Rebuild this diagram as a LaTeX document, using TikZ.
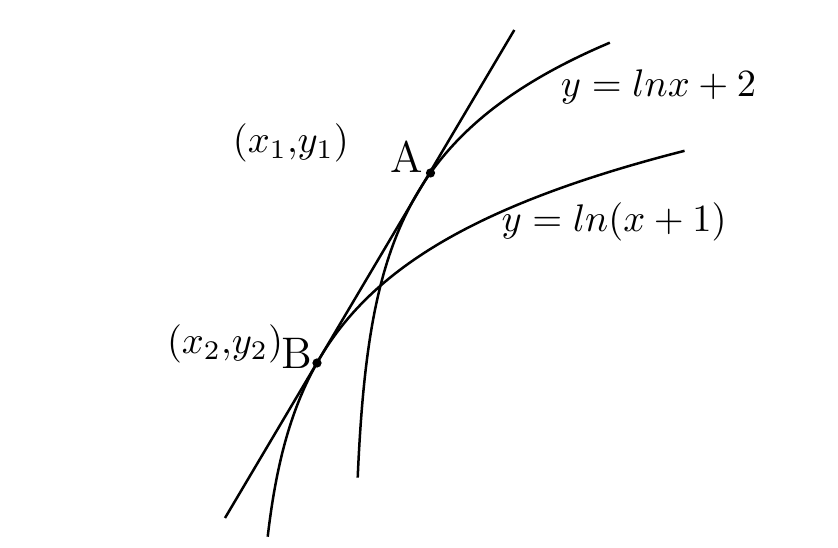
\documentclass[tikz,border=0pt]{standalone}
\begin{document}
\begin{tikzpicture}[x=0.26pt,y=-0.26pt,
  curve/.style={line width=0.65pt,line join=round},
  tangentline/.style={line width=0.65pt},
  ptdot/.style={circle,fill=black,inner sep=0pt,minimum size=2.4pt},
  mathlabel/.style={inner sep=0pt,anchor=base},
  ptlabel/.style={inner sep=0pt,anchor=base,font=\fontsize{11.5pt}{14pt}\selectfont}]
\useasboundingbox (0,0) rectangle (838,548);
% tangent points
\coordinate (A) at (430.5,173);
\coordinate (B) at (317,363);
% ends of the common tangent
\coordinate (L1) at (225,518);
\coordinate (L2) at (514.3,30);
\draw[tangentline] (L1) -- (L2);
% y = ln x + 2
\draw[curve] plot[smooth,domain=1.5476:5.5491,samples=80,variable=\t]
  ({353+exp(\t)},{645.8-108.7*\t});
% y = ln(x+1)
\draw[curve] plot[smooth,domain=2.5416:6.0638,samples=80,variable=\t]
  ({255+exp(\t)},{815.3-109.6*\t});
\node[ptdot] (dA) at (A) {};
\node[ptdot] (dB) at (B) {};
\node[ptlabel] (lA) at (406.7,172.7) {A};
\node[ptlabel] (lB) at (296.7,368.3) {B};
\node[mathlabel] (p1) at (290.8,153) {$(x_1{,}y_1)$};
\node[mathlabel] (p2) at (225,353.7) {$(x_2{,}y_2)$};
\node[mathlabel] (f1) at (658.5,96.7) {$y=lnx+2$};
\node[mathlabel] (f2) at (614,231.7) {$y=ln(x+1)$};
\end{tikzpicture}
\end{document}
